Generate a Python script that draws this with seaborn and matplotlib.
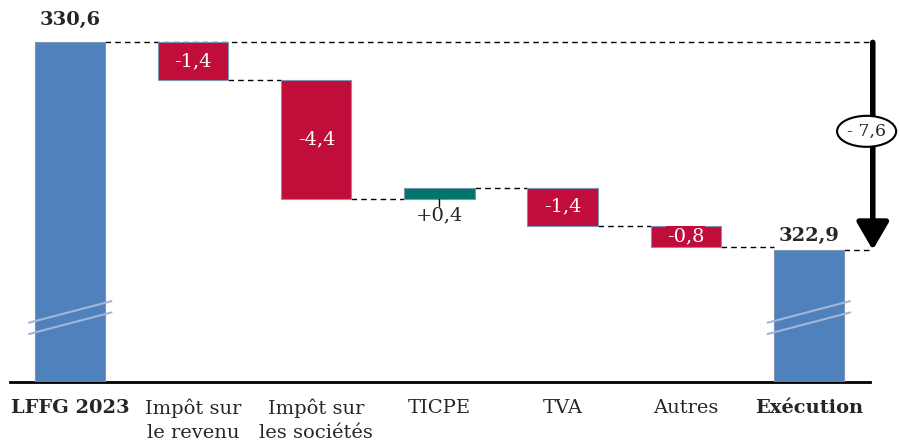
import pandas as pd
import matplotlib.pyplot as plt
from matplotlib.patches import Ellipse
import seaborn as sns

# données (Md€)
categories = ["LFFG 2023", "Impôt sur\nle revenu", "Impôt sur\nles sociétés", "TICPE", "TVA", "Autres", "Exécution"]
start_total = 330.6
deltas = [-1.4, -4.4, 0.4, -1.4, -0.8]
end_total = 322.9
delta_labels = ["-1,4", "-4,4", "+0,4", "-1,4", "-0,8"]
total_labels = ["330,6", "322,9"]
gap_label = "- 7,6"
axis_floor = 318.0  # axe coupé

blue = "#4F81BD"
red = "#C00D3A"
teal = "#00756A"

sns.set_theme(style="white")
plt.rcParams["font.family"] = ["DejaVu Serif"]

# bas / haut de chaque barre
lows, highs, colors = [axis_floor], [start_total], [blue]
level = start_total
for d in deltas:
    new = round(level + d, 1)
    lows.append(min(level, new))
    highs.append(max(level, new))
    colors.append(teal if d > 0 else red)
    level = new
lows.append(axis_floor)
highs.append(end_total)
colors.append(blue)

df = pd.DataFrame({"cat": categories, "low": lows, "high": highs})

fig = plt.figure(figsize=(9, 4.46), dpi=100)
ax = fig.add_axes([0.011, 0.1435, 0.956, 0.834])

bw = 0.57
sns.barplot(data=df, x="cat", y="high", hue="cat", palette=colors, legend=False,
            width=bw, ax=ax, saturation=1, edgecolor="#7F93B5", linewidth=0.8)
for p, lo, hi in zip(ax.patches, df["low"], df["high"]):
    p.set_y(lo)
    p.set_height(hi - lo)
    p.set_zorder(3)

ax.set_xlim(-0.49, 6.5)
ax.set_ylim(axis_floor, 331.8)
ax.set_xlabel("")
ax.set_ylabel("")
ax.set_yticks([])
for s in ["left", "right", "top"]:
    ax.spines[s].set_visible(False)
ax.spines["bottom"].set_color("black")
ax.spines["bottom"].set_linewidth(2)
ax.tick_params(axis="x", length=0, pad=12)
ax.set_xticks(range(len(categories)))
ax.set_xticklabels(categories, fontsize=14, linespacing=1.45)
for i, t in enumerate(ax.get_xticklabels()):
    if i in (0, len(categories) - 1):
        t.set_fontweight("bold")

xa = 6.52  # flèche d'écart
dash = (0, (4, 3))

# lignes de liaison
ax.plot([bw / 2, xa], [start_total, start_total], color="black", lw=1, ls=dash, zorder=1)
level = start_total
for i, d in enumerate(deltas):
    new = round(level + d, 1)
    ax.plot([i + 1 + bw / 2, i + 2 - bw / 2], [new, new], color="black", lw=1, ls=dash, zorder=1)
    level = new
ax.plot([6 + bw / 2, xa], [end_total, end_total], color="black", lw=1, ls=dash, zorder=1)

# étiquettes des totaux
ax.text(0, start_total + 0.5, total_labels[0], ha="center", va="bottom", fontsize=14, fontweight="bold")
ax.text(6, end_total + 0.2, total_labels[1], ha="center", va="bottom", fontsize=14, fontweight="bold")

# étiquettes des variations
for i, (d, lab) in enumerate(zip(deltas, delta_labels)):
    lo, hi = lows[i + 1], highs[i + 1]
    if d > 0:
        ax.plot([i + 1, i + 1], [lo, lo - 0.28], color="black", lw=1, zorder=4)
        ax.text(i + 1, lo - 0.3, lab, ha="center", va="top", fontsize=14)
    else:
        ax.text(i + 1, (lo + hi) / 2, lab, ha="center", va="center", fontsize=14,
                color="white", zorder=5,
                bbox=dict(boxstyle="square,pad=0.05", fc=red, ec="none"))

# marques de coupure sur les barres bleues
brk = axis_floor + 2.6
for x in (0, 6):
    for off in (0.0, -0.42):
        ax.plot([x - bw / 2 - 0.05, x + bw / 2 + 0.05], [brk + off - 0.4, brk + off + 0.4],
                color="#A3B6D6", lw=1.5, zorder=4, clip_on=False)

# flèche d'écart total
ax.annotate("", xy=(xa, end_total), xytext=(xa, start_total),
            arrowprops=dict(arrowstyle="-|>,head_length=0.6,head_width=0.35", lw=4,
                            color="black", mutation_scale=28, shrinkA=0, shrinkB=0),
            annotation_clip=False)
ell_y = 327.3
ax.add_patch(Ellipse((xa - 0.05, ell_y), width=0.48, height=1.15, fc="white",
                     ec="black", lw=1.5, zorder=6, clip_on=False))
ax.text(xa - 0.05, ell_y, gap_label, ha="center", va="center", fontsize=12.5, zorder=7)

fig.savefig("out.png", dpi=100)
